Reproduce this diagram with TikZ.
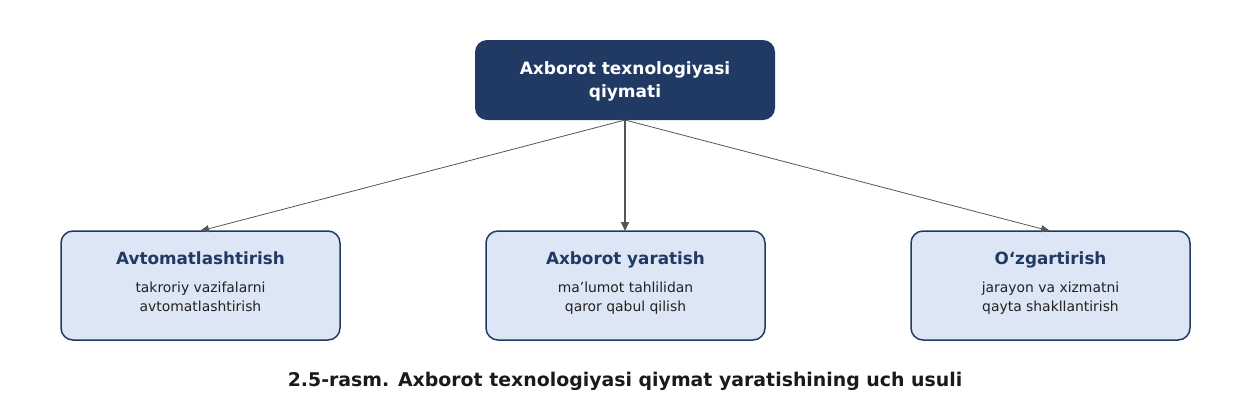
\documentclass[tikz,border=0pt]{standalone}
\usepackage{fontspec}
\setmainfont{DejaVu Sans}
\usetikzlibrary{arrows.meta}
\definecolor{navy}{HTML}{213A64}
\definecolor{lightbox}{HTML}{DCE6F5}
\definecolor{arrowgray}{HTML}{555555}
\definecolor{subtext}{HTML}{222222}
\definecolor{captext}{HTML}{1A1A1A}
\tikzset{
  topbox/.style={draw=none, fill=navy, rounded corners=12pt, minimum width=300pt, minimum height=80pt, inner sep=0pt},
  leafbox/.style={draw=navy, line width=1.5pt, fill=lightbox, rounded corners=12pt, minimum width=279pt, minimum height=109pt, inner sep=0pt},
  toptext/.style={text=white, font=\fontsize{17}{21}\selectfont\bfseries, anchor=base, inner sep=0pt},
  leaftitle/.style={text=navy, font=\fontsize{16.8}{19}\selectfont\bfseries, anchor=base, inner sep=0pt},
  leafsub/.style={text=subtext, font=\fontsize{13.9}{19.5}\selectfont, anchor=base, inner sep=0pt},
  captionstyle/.style={text=captext, font=\fontsize{18.9}{22}\selectfont\bfseries, anchor=base, inner sep=0pt},
  conn/.style={draw=arrowgray, line width=0.8pt, -{Triangle[length=9pt,width=7pt]}},
  connmain/.style={draw=arrowgray, line width=1.5pt, -{Triangle[length=9pt,width=8pt]}},
}
\begin{document}
\begin{tikzpicture}[x=1pt,y=-1pt]
\useasboundingbox (0,0) rectangle (1250,400);
\node[topbox] (top) at (625,80) {};
\node[toptext] (toplabel1) at (625,74) {Axborot texnologiyasi};
\node[toptext] (toplabel2) at (625,97) {qiymati};

\node[leafbox] (a) at (200.5,285.5) {};
\node[leafbox] (b) at (625.5,285.5) {};
\node[leafbox] (c) at (1050.5,285.5) {};

\node[leaftitle] (at) at (200.5,264) {Avtomatlashtirish};
\node[leafsub] (as1) at (200.5,292) {takroriy vazifalarni};
\node[leafsub] (as2) at (200.5,311) {avtomatlashtirish};
\node[leaftitle] (bt) at (625.5,264) {Axborot yaratish};
\node[leafsub] (bs1) at (625.5,292) {ma’lumot tahlilidan};
\node[leafsub] (bs2) at (625.5,311) {qaror qabul qilish};
\node[leaftitle] (ct) at (1050.5,264) {O‘zgartirish};
\node[leafsub] (cs1) at (1050.5,292) {jarayon va xizmatni};
\node[leafsub] (cs2) at (1050.5,311) {qayta shakllantirish};

\coordinate (src) at (625,120);
\coordinate (ta) at (200,231);
\coordinate (tb) at (625,231);
\coordinate (tc) at (1050,231);
\draw[conn] (src) -- (ta);
\draw[connmain] (src) -- (tb);
\draw[conn] (src) -- (tc);

\node[captionstyle] (cap) at (625,386) {2.5-rasm. Axborot texnologiyasi qiymat yaratishining uch usuli};
\end{tikzpicture}
\end{document}
